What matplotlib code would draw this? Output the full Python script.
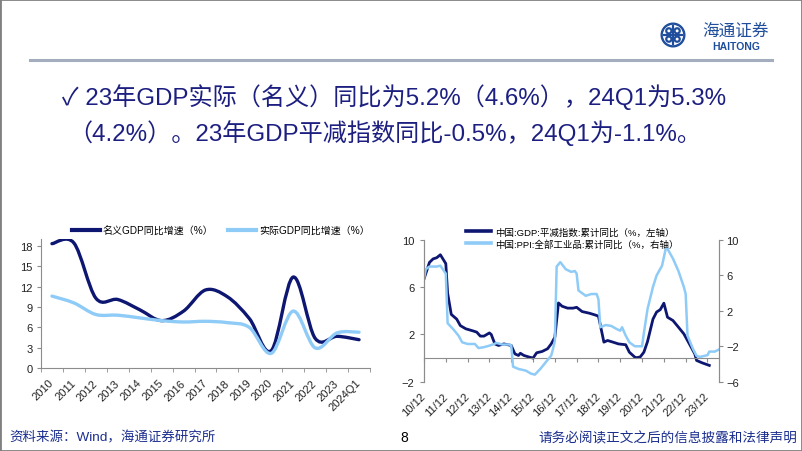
import matplotlib.pyplot as plt
import numpy as np
from matplotlib.path import Path
from matplotlib.patches import PathPatch, Rectangle, Circle
from matplotlib.lines import Line2D

plt.rcParams['font.family'] = ['Liberation Sans', 'Noto Sans CJK SC', 'DejaVu Sans']

NAVY = '#0d1670'
LIGHT = '#8ecbf7'
TXT = '#1c1f80'
GRAY = '#8c8c8c'

# left chart: annual GDP growth (%)
years = ['2010', '2011', '2012', '2013', '2014', '2015', '2016', '2017',
         '2018', '2019', '2020', '2021', '2022', '2023', '2024Q1']
nominal_gdp = [18.3, 18.4, 10.3, 10.1, 8.6, 7.0, 8.4, 11.5, 10.5, 7.3, 2.6, 13.4, 4.4, 4.7, 4.2]
real_gdp = [10.6, 9.6, 7.9, 7.8, 7.4, 7.0, 6.8, 6.9, 6.7, 6.0, 2.2, 8.4, 3.0, 5.2, 5.3]

# right chart: months counted from 2010/12
defl_month = [0, 3, 5, 7, 9, 11, 12, 13, 15, 18, 20, 23, 27, 29, 31, 33, 36, 37, 39, 41,
              44, 48, 50, 52, 53, 55, 58, 60, 62, 65, 68, 70, 72, 74, 76, 79, 82, 84, 87, 91,
              94, 96, 99, 101, 104, 107, 111, 113, 116, 117, 119, 121, 123, 126, 128, 130,
              132, 134, 137, 140, 143, 146, 149, 150, 153, 157]
defl_value = [6.7, 8.1, 8.4, 8.5, 8.75, 8.25, 8.0, 5.5, 3.7, 3.3, 2.75, 2.48, 2.3, 2.2, 1.86,
              1.86, 2.13, 2.0, 1.2, 1.07, 1.2, 1.07, 0.36, 0.22, 0.41, 0.22, 0.08, 0.0, 0.45,
              0.56, 0.79, 1.2, 1.77, 4.67, 4.39, 4.23, 4.23, 4.3, 3.94, 3.8, 3.66, 3.55, 1.35,
              1.49, 1.35, 1.2, 1.13, 0.5, 0.08, 0.03, 0.1, 0.5, 1.4, 3.3, 3.9, 4.1, 4.65, 3.46,
              3.18, 2.62, 2.05, 1.21, 0.36, -0.2, -0.4, -0.62]
ppi_month = [0, 1, 3, 7, 9, 12, 13, 16, 19, 21, 24, 28, 30, 33, 36, 40, 43, 47, 48, 49,
             52, 56, 59, 61, 64, 67, 70, 71, 72, 73, 75, 78, 81, 83, 84, 85, 89, 92, 95, 96,
             97, 100, 103, 106, 108, 109, 111, 113, 116, 120, 121, 123, 126, 128, 131, 133,
             134, 137, 140, 143, 144, 145, 148, 150, 152, 156, 157, 160, 162]
ppi_value = [5.6, 6.7, 7.0, 7.0, 7.1, 6.2, 0.6, -0.05, -0.8, -1.55, -1.74, -1.74, -2.2, -2.1,
             -1.93, -1.63, -1.8, -1.8, -1.9, -4.3, -4.56, -4.75, -5.1, -5.2, -4.56, -3.8,
             -3.05, -2.3, -1.4, 7.0, 7.5, 6.7, 6.4, 6.5, 6.2, 4.3, 3.7, 3.9, 3.9, 3.3, 0.15,
             0.4, 0.3, -0.05, -0.24, 0.15, -0.8, -1.55, -2.0, -2.0, -0.5, 2.2, 4.7, 6.0, 7.1,
             9.0, 9.0, 7.9, 6.5, 4.7, 3.9, -0.8, -2.3, -3.1, -3.2, -3.0, -2.6, -2.6, -2.4]
tick_labels = ['10/12', '11/12', '12/12', '13/12', '14/12', '15/12', '16/12',
               '17/12', '18/12', '19/12', '20/12', '21/12', '22/12', '23/12']


def smooth_path(x, y):
    # Catmull-Rom style smoothing, like Excel's smoothed lines
    pts = np.column_stack([x, y]).astype(float)
    ext = np.vstack([pts[0], pts, pts[-1]])
    verts = [pts[0]]
    codes = [Path.MOVETO]
    for i in range(len(pts) - 1):
        p0, p1, p2, p3 = ext[i], ext[i + 1], ext[i + 2], ext[i + 3]
        verts += [p1 + (p2 - p0) / 6, p2 - (p3 - p1) / 6, p2]
        codes += [Path.CURVE4] * 3
    return Path(verts, codes)


fig = plt.figure(figsize=(8.02, 4.52), dpi=100)

# slide frame, header line, footer
fig.add_artist(Rectangle((0, 0), 1, 1, transform=fig.transFigure, fill=False,
                         edgecolor='#808080', lw=2))
fig.add_artist(Line2D([30 / 802, 772 / 802], [1 - 61 / 452] * 2, color='#a3adbd', lw=2.2))

fig.text(62 / 802, 1 - 97 / 452, '✓ 23年GDP实际（名义）同比为5.2%（4.6%），24Q1为5.3%',
         fontsize=17.4, color=TXT, va='center')
fig.text(68 / 802, 1 - 133 / 452, '（4.2%）。23年GDP平减指数同比-0.5%，24Q1为-1.1%。',
         fontsize=17.4, color=TXT, va='center')

fig.text(9 / 802, 1 - 438 / 452, '资料来源：Wind，海通证券研究所', fontsize=9.7,
         color='#1c2f8f', va='center')
fig.text(404 / 802, 1 - 438 / 452, '8', fontsize=10, color='black', va='center', ha='center')
fig.text(797 / 802, 1 - 438 / 452, '请务必阅读正文之后的信息披露和法律声明', fontsize=9.8,
         color='#1c2f8f', va='center', ha='right')

# logo
lax = fig.add_axes([660 / 802, 1 - 49 / 452, 26 / 802, 26 / 452])
lax.set_aspect('equal')
lax.set_xlim(-1.1, 1.1)
lax.set_ylim(-1.1, 1.1)
lax.axis('off')
lax.add_patch(Circle((0, 0), 1.0, color='#1f4e9c'))
lax.add_patch(Circle((0, 0), 0.8, color='white'))
for dx, dy in [(-0.35, 0.35), (0.35, 0.35), (-0.35, -0.35), (0.35, -0.35)]:
    lax.add_patch(Circle((dx, dy), 0.22, fill=False, ec='#1f4e9c', lw=1.6))
lax.plot([0, 0], [-0.8, 0.8], color='#1f4e9c', lw=1.6)
lax.plot([-0.8, 0.8], [0, 0], color='#1f4e9c', lw=1.6)
fig.text(736 / 802, 1 - 31 / 452, '海通证券', fontsize=12, color='#1f4e9c',
         ha='center', va='center', style='italic')
fig.text(736 / 802, 1 - 47 / 452, 'HAITONG', fontsize=7.5, color='#1f4e9c',
         ha='center', va='center', fontweight='bold')

# ---- left chart ----
ax1 = fig.add_axes([41 / 802, 1 - 369.3 / 452, 329 / 802, 129.4 / 452])
xi = np.arange(len(years))
ax1.add_patch(PathPatch(smooth_path(xi, nominal_gdp), fc='none', ec=NAVY, lw=2.4,
                        capstyle='round', joinstyle='round', zorder=3))
ax1.add_patch(PathPatch(smooth_path(xi, real_gdp), fc='none', ec=LIGHT, lw=2.4,
                        capstyle='round', joinstyle='round', zorder=4))
ax1.set_xlim(-0.5, len(years) - 0.5)
ax1.set_ylim(0, 19)
ax1.set_yticks(range(0, 19, 3))
ax1.set_xticks(xi)
ax1.set_xticklabels(years, rotation=45, ha='right', va='center', rotation_mode='anchor')
ax1.set_xticks(np.arange(-0.5, len(years), 1), minor=True)
ax1.tick_params(axis='x', which='major', length=0, pad=9, labelsize=8, colors='#222222')
ax1.tick_params(axis='x', which='minor', length=3, direction='out', color=GRAY)
ax1.tick_params(axis='y', length=3, direction='out', color=GRAY, labelsize=8,
                labelcolor='#222222', pad=3)
for s in ['top', 'right']:
    ax1.spines[s].set_visible(False)
for s in ['left', 'bottom']:
    ax1.spines[s].set_color(GRAY)
ax1.patch.set_alpha(0)
h1 = [Line2D([], [], color=NAVY, lw=3), Line2D([], [], color=LIGHT, lw=3)]
ax1.legend(h1, ['名义GDP同比增速（%）', '实际GDP同比增速（%）'], ncol=2, frameon=False,
           fontsize=7.2, loc='center left', bbox_to_anchor=(72 / 802, 1 - 231 / 452),
           bbox_transform=fig.transFigure, borderpad=0, borderaxespad=0,
           handlelength=2.8, handletextpad=0.3, columnspacing=1.4)

# ---- right chart ----
ax2 = fig.add_axes([424 / 802, 1 - 382.7 / 452, 295.3 / 802, 141.7 / 452])
ax2.plot(defl_month, defl_value, color=NAVY, lw=2.0, solid_joinstyle='round')
ax2.set_ylim(-2, 10)
ax2.set_yticks([-2, 2, 6, 10])
ax2.set_xlim(0, 162.5)
ax2r = ax2.twinx()
ax2r.plot(ppi_month, ppi_value, color=LIGHT, lw=1.8, solid_joinstyle='round')
ax2r.set_ylim(-6, 10)
ax2r.set_yticks([-6, -2, 2, 6, 10])

tick_pos = [12 * i for i in range(len(tick_labels))]
ax2.set_xticks(tick_pos)
ax2.set_xticklabels([])
ax2.spines['bottom'].set_position(('data', 0))
ax2.spines['bottom'].set_color(GRAY)
ax2.tick_params(axis='x', length=3, direction='out', color=GRAY)
sec = ax2.secondary_xaxis(0)
sec.set_xticks(tick_pos)
sec.set_xticklabels(tick_labels, rotation=45, ha='right', va='center', rotation_mode='anchor')
sec.tick_params(length=0, pad=9, labelsize=8, colors='#222222')
sec.spines['bottom'].set_visible(False)

for a in (ax2, ax2r):
    a.spines['top'].set_visible(False)
    a.spines['left'].set_color(GRAY)
    a.spines['right'].set_color(GRAY)
ax2r.spines['bottom'].set_visible(False)
ax2.tick_params(axis='y', length=3, direction='out', color=GRAY, labelsize=8,
                labelcolor='#222222', pad=4)
ax2r.tick_params(axis='y', length=3, direction='out', color=GRAY, labelsize=8,
                 labelcolor='#222222', pad=2)
h2 = [Line2D([], [], color=NAVY, lw=2.6), Line2D([], [], color=LIGHT, lw=2.6)]
ax2.legend(h2, ['中国:GDP:平减指数:累计同比（%，左轴）', '中国:PPI:全部工业品:累计同比（%，右轴）'],
           frameon=False, fontsize=6.8, loc='center left',
           bbox_to_anchor=(466 / 802, 1 - 239 / 452), bbox_transform=fig.transFigure,
           borderpad=0, borderaxespad=0, handlelength=2.6, handletextpad=0.5,
           labelspacing=0.25)

fig.savefig('out.png', dpi=100)
